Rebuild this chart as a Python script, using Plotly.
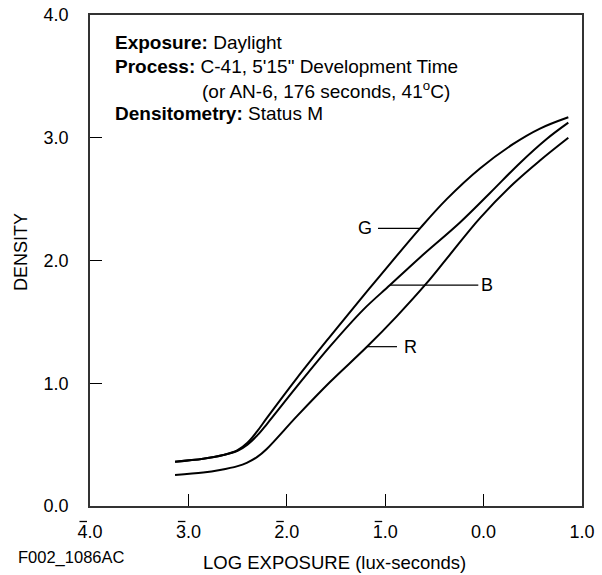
import plotly.graph_objects as go

# Data (log exposure, density)
g_x = [-3.136, -2.85, -2.645, -2.50, -2.40, -2.30, -2.20, -1.899, -1.561, -1.256, -1.053, -0.646, -0.375, -0.037, 0.302, 0.573, 0.861]
g_y = [0.361, 0.385, 0.415, 0.455, 0.515, 0.610, 0.720, 1.040, 1.380, 1.680, 1.875, 2.262, 2.500, 2.750, 2.950, 3.075, 3.167]

b_x = [-3.136, -2.85, -2.645, -2.50, -2.40, -2.30, -2.20, -1.899, -1.561, -1.222, -0.951, -0.646, -0.240, 0.065, 0.370, 0.641, 0.861]
b_y = [0.361, 0.385, 0.415, 0.450, 0.500, 0.575, 0.670, 0.972, 1.300, 1.600, 1.800, 2.025, 2.310, 2.550, 2.795, 2.990, 3.123]

r_x = [-3.136, -2.85, -2.679, -2.50, -2.407, -2.30, -2.204, -1.899, -1.561, -1.188, -0.883, -0.579, -0.375, -0.037, 0.302, 0.573, 0.861]
r_y = [0.253, 0.272, 0.293, 0.325, 0.352, 0.400, 0.465, 0.730, 1.010, 1.295, 1.545, 1.815, 2.015, 2.345, 2.625, 2.815, 3.000]

x_range = [-4, 1]
y_range = [0, 4]
x_tickvals = [-4, -3, -2, -1, 0, 1]
x_ticktext = ["4.0", "3.0", "2.0", "1.0", "0.0", "1.0"]
x_negative = [-4, -3, -2, -1]          # characteristic shown with a bar over the digit
y_tickvals = [0, 1, 2, 3, 4]
y_ticktext = ["0.0", "1.0", "2.0", "3.0", "4.0"]

# curve labels: name, text x, leader x0, leader x1, y
labels = [
    ("G", -1.205, -1.073, -0.646, 2.262),
    ("B", 0.035, -0.951, -0.054, 1.80),
    ("R", -0.748, -1.185, -0.880, 1.298),
]

FONT = "Liberation Sans, Arial, sans-serif"
fig = go.Figure()
for xs, ys in [(g_x, g_y), (b_x, b_y), (r_x, r_y)]:
    fig.add_trace(go.Scatter(x=xs, y=ys, mode="lines",
                             line=dict(color="black", width=2, shape="spline", smoothing=1.0),
                             showlegend=False, hoverinfo="skip"))

for name, tx, x0, x1, yy in labels:
    fig.add_shape(type="line", x0=x0, x1=x1, y0=yy, y1=yy, xref="x", yref="y",
                  line=dict(color="black", width=1.2))
    fig.add_annotation(x=tx, y=yy, xref="x", yref="y", text=name, showarrow=False,
                       font=dict(size=18, color="black", family=FONT))

# bars over negative characteristics
for v in x_negative:
    fig.add_shape(type="line", xref="paper", yref="paper",
                  xsizemode="pixel", xanchor=(v - x_range[0]) / (x_range[1] - x_range[0]),
                  x0=-10.5, x1=-3,
                  ysizemode="pixel", yanchor=0, y0=-15.5, y1=-15.5,
                  line=dict(color="black", width=1.3))

txt = [
    ("<b>Exposure:</b> Daylight", 0.0467, 0.943),
    ("<b>Process:</b> C-41, 5'15\" Development Time", 0.0467, 0.895),
    ("(or AN-6, 176 seconds, 41<sup>o</sup>C)", 0.2236, 0.847),
    ("<b>Densitometry:</b> Status M", 0.0467, 0.799),
]
for t, px, py in txt:
    fig.add_annotation(x=px, y=py, xref="paper", yref="paper", text=t, showarrow=False,
                       xanchor="left", yanchor="middle",
                       font=dict(size=19, color="black", family=FONT))

fig.add_annotation(x=-69/492, y=(506-252)/491, xref="paper", yref="paper", text="DENSITY",
                   textangle=-90, showarrow=False, xanchor="center", yanchor="middle",
                   font=dict(size=18, color="black", family=FONT))
fig.add_annotation(x=0.497, y=-56/491, xref="paper", yref="paper", text="LOG EXPOSURE (lux-seconds)",
                   showarrow=False, xanchor="center", yanchor="middle",
                   font=dict(size=18.5, color="black", family=FONT))
fig.add_annotation(x=(16-90)/492, y=(506-557)/491, xref="paper", yref="paper", text="F002_1086AC",
                   showarrow=False, xanchor="left", yanchor="middle",
                   font=dict(size=16.5, color="black", family=FONT))

fig.update_xaxes(range=x_range, tickvals=x_tickvals, ticktext=x_ticktext, ticks="inside",
                 ticklen=12, tickwidth=1.2, tickcolor="black", showgrid=False, zeroline=False,
                 showline=True, linecolor="#333", linewidth=1.5, mirror=True, automargin=False,
                 ticklabeloverflow="allow",
                 tickfont=dict(size=18, color="black", family=FONT), ticklabelstandoff=9)
fig.update_yaxes(range=y_range, tickvals=y_tickvals, ticktext=y_ticktext, ticks="inside",
                 ticklen=12, tickwidth=1.2, tickcolor="black", showgrid=False, zeroline=False,
                 showline=True, linecolor="#333", linewidth=1.5, mirror=True, automargin=False,
                 ticklabeloverflow="allow",
                 tickfont=dict(size=18, color="black", family=FONT), ticklabelstandoff=16)
fig.update_layout(width=602, height=575, margin=dict(l=90, r=20, t=15, b=69),
                  plot_bgcolor="white", paper_bgcolor="white", showlegend=False)
# remove the default 8px page margin so the figure fills the window exactly
fig.write_html("out.html", config={"displayModeBar": False},
               post_script="document.body.style.margin='0px';")
